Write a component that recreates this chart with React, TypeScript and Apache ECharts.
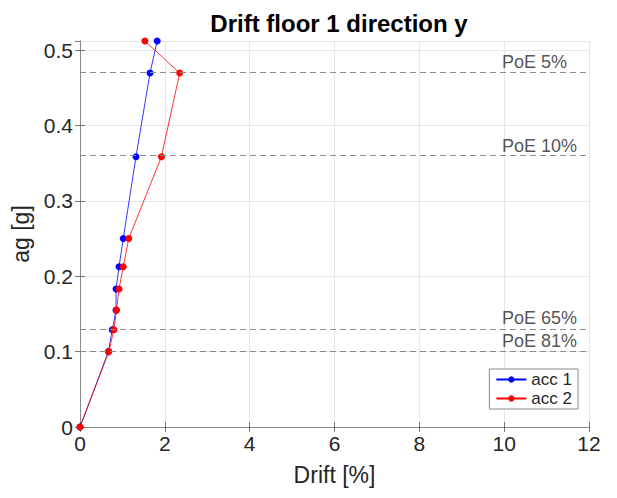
import React, { useEffect, useRef } from "react";
import * as echarts from "echarts";

const agLevels = [0, 0.1, 0.129, 0.155, 0.183, 0.2125, 0.25, 0.3585, 0.4695, 0.512];
const driftAcc1 = [0, 0.67, 0.76, 0.85, 0.85, 0.92, 1.02, 1.32, 1.65, 1.82];
const driftAcc2 = [0, 0.68, 0.8, 0.86, 0.92, 1.02, 1.15, 1.92, 2.35, 1.53];
const seriesNames = ["acc 1", "acc 2"];
const poeLabels = ["PoE 5%", "PoE 10%", "PoE 65%", "PoE 81%"];
const poeValues = [0.4695, 0.3585, 0.13, 0.1];
const poeLabelX = 9.95;
const xTicks = { min: 0, max: 12, interval: 2 };
const yTicks = { min: 0, max: 0.512, interval: 0.1 };

const FONT = "'Liberation Sans', Arial, Helvetica, sans-serif";
const TXT = "#262626";

export default function App() {
  const ref = useRef<HTMLDivElement>(null);
  useEffect(() => {
    document.body.style.margin = "0";
    const chart = echarts.init(ref.current!, null, { renderer: "svg" });
    const tickStyle = { show: true, inside: true, length: 5, lineStyle: { color: "#555", width: 0.8 } };
    const axisLine = { show: true, lineStyle: { color: "#8a8a8a", width: 1 } };
    chart.setOption({
      animation: false,
      backgroundColor: "#ffffff",
      textStyle: { fontFamily: FONT },
      title: {
        text: "Drift floor 1 direction y",
        left: 334,
        textAlign: "center",
        top: 6,
        textStyle: { fontFamily: FONT, fontSize: 24, fontWeight: "bold", color: "#000" },
      },
      grid: { left: 80, right: 28, top: 41, bottom: 71 },
      legend: {
        data: seriesNames,
        orient: "vertical",
        right: 39,
        top: 369,
        backgroundColor: "#fff",
        borderColor: "#8a8a8a",
        borderWidth: 1,
        borderRadius: 0,
        padding: [2, 6, 2, 6],
        itemGap: 2,
        itemWidth: 30,
        itemHeight: 8,
        textStyle: { fontFamily: FONT, fontSize: 17, color: TXT },
      },
      xAxis: [
        {
          type: "value",
          min: xTicks.min,
          max: xTicks.max,
          interval: xTicks.interval,
          name: "Drift [%]",
          nameLocation: "middle",
          nameGap: 36,
          nameTextStyle: { fontFamily: FONT, fontSize: 23, color: TXT },
          axisLine,
          axisTick: tickStyle,
          axisLabel: { fontFamily: FONT, fontSize: 21, color: TXT, margin: 6 },
          splitLine: { show: true, lineStyle: { color: "#e6e6e6", width: 1 } },
        },
        {
          type: "value",
          position: "top",
          min: xTicks.min,
          max: xTicks.max,
          interval: xTicks.interval,
          axisLine,
          axisTick: tickStyle,
          axisLabel: { show: false },
          splitLine: { show: false },
        },
      ],
      yAxis: [
        {
          type: "value",
          min: yTicks.min,
          max: yTicks.max,
          interval: yTicks.interval,
          name: "ag [g]",
          nameLocation: "middle",
          nameGap: 44,
          nameTextStyle: { fontFamily: FONT, fontSize: 23, color: TXT },
          axisLine,
          axisTick: tickStyle,
          axisLabel: { fontFamily: FONT, fontSize: 21, color: TXT, margin: 7, showMaxLabel: false },
          splitLine: { show: true, lineStyle: { color: "#e6e6e6", width: 1 } },
        },
        {
          type: "value",
          position: "right",
          min: yTicks.min,
          max: yTicks.max,
          interval: yTicks.interval,
          axisLine,
          axisTick: tickStyle,
          axisLabel: { show: false },
          splitLine: { show: false },
        },
      ],
      series: [
        {
          name: "PoE",
          type: "scatter",
          symbolSize: 0,
          silent: true,
          data: poeValues.map((v, i) => ({ value: [poeLabelX, v], name: poeLabels[i] })),
          label: {
            show: true,
            position: "right",
            distance: 0,
            offset: [0, -11],
            formatter: (p: any) => p.name,
            fontFamily: FONT,
            fontSize: 18,
            color: TXT,
          },
          markLine: {
            silent: true,
            symbol: "none",
            label: { show: false },
            lineStyle: { color: "#8c8c8c", type: [6, 4], width: 1 },
            data: poeValues.map((v) => ({ yAxis: v })),
          },
          z: 1,
        },
        {
          name: seriesNames[0],
          type: "line",
          data: agLevels.map((a, i) => [driftAcc1[i], a]),
          symbol: "circle",
          symbolSize: 7,
          itemStyle: { color: "#0000ff" },
          lineStyle: { color: "#0000ff", width: 0.8 },
          z: 3,
        },
        {
          name: seriesNames[1],
          type: "line",
          data: agLevels.map((a, i) => [driftAcc2[i], a]),
          symbol: "circle",
          symbolSize: 7,
          itemStyle: { color: "#ff0000" },
          lineStyle: { color: "#ff0000", width: 0.8 },
          z: 4,
        },
      ],
    });
    return () => chart.dispose();
  }, []);
  return <div ref={ref} style={{ width: 617, height: 498 }} />;
}
